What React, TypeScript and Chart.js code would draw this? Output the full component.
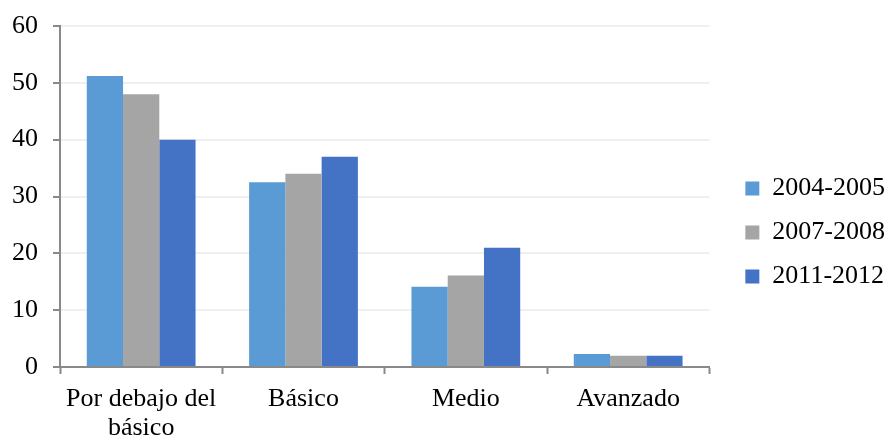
import React, { useEffect, useRef } from "react";
import { Chart, registerables } from "chart.js";

Chart.register(...registerables);

const categories: (string | string[])[] = [["Por debajo del", "básico"], "Básico", "Medio", "Avanzado"];
const seriesNames = ["2004-2005", "2007-2008", "2011-2012"];
const values2004 = [51.2, 32.5, 14.1, 2.3];
const values2007 = [48.0, 34.0, 16.1, 2.0];
const values2011 = [40.0, 37.0, 21.0, 2.0];
const seriesColors = ["#5B9BD5", "#A5A5A5", "#4472C4"];
const yTicks = { min: 0, max: 60, step: 10 };

const legendShift = {
  id: "legendShift",
  afterLayout(chart: any) {
    const lg = chart.legend;
    if (lg) {
      lg.left += 18;
      lg.right += 18;
    }
  },
};

export default function App() {
  const ref = useRef<HTMLCanvasElement | null>(null);
  useEffect(() => {
    if (!ref.current) return;
    const family = "'Liberation Serif', 'Times New Roman', serif";
    const chart = new Chart(ref.current, {
      type: "bar",
      data: {
        labels: categories,
        datasets: [values2004, values2007, values2011].map((d, i) => ({
          label: seriesNames[i],
          data: d,
          backgroundColor: seriesColors[i],
          borderWidth: 0,
          categoryPercentage: 0.67,
          barPercentage: 1,
        })),
      },
      plugins: [legendShift],
      options: {
        animation: false,
        responsive: true,
        maintainAspectRatio: false,
        layout: { padding: { left: 12, top: 26, right: 10, bottom: 0 } },
        plugins: {
          tooltip: { enabled: false },
          legend: {
            position: "right",
            labels: {
              font: { family, size: 26 },
              color: "#000",
              boxWidth: 14,
              boxHeight: 14,
              padding: 18,
            },
          },
        },
        scales: {
          x: {
            afterFit: (s: any) => {
              s.height = 72;
            },
            grid: {
              offset: true,
              drawOnChartArea: false,
              tickColor: "#898989",
              tickLength: 7,
              tickWidth: 2,
            },
            border: { color: "#898989", width: 2 },
            ticks: { font: { family, size: 26, lineHeight: 1.13 }, color: "#000", padding: 10, maxRotation: 0 },
          },
          y: {
            min: yTicks.min,
            max: yTicks.max,
            afterFit: (s: any) => {
              s.width = 48;
            },
            ticks: { stepSize: yTicks.step, font: { family, size: 26, lineHeight: 0.4 }, color: "#000", padding: 15 },
            grid: { color: "#EFEFEF", lineWidth: 2, tickColor: "#898989", tickLength: 7, tickWidth: 2 },
            border: { color: "#898989", width: 2 },
          },
        },
      },
    });
    return () => chart.destroy();
  }, []);
  return (
    <div style={{ position: "fixed", left: 0, top: 0, width: 887, height: 439, background: "#fff" }}>
      <canvas ref={ref} />
    </div>
  );
}
